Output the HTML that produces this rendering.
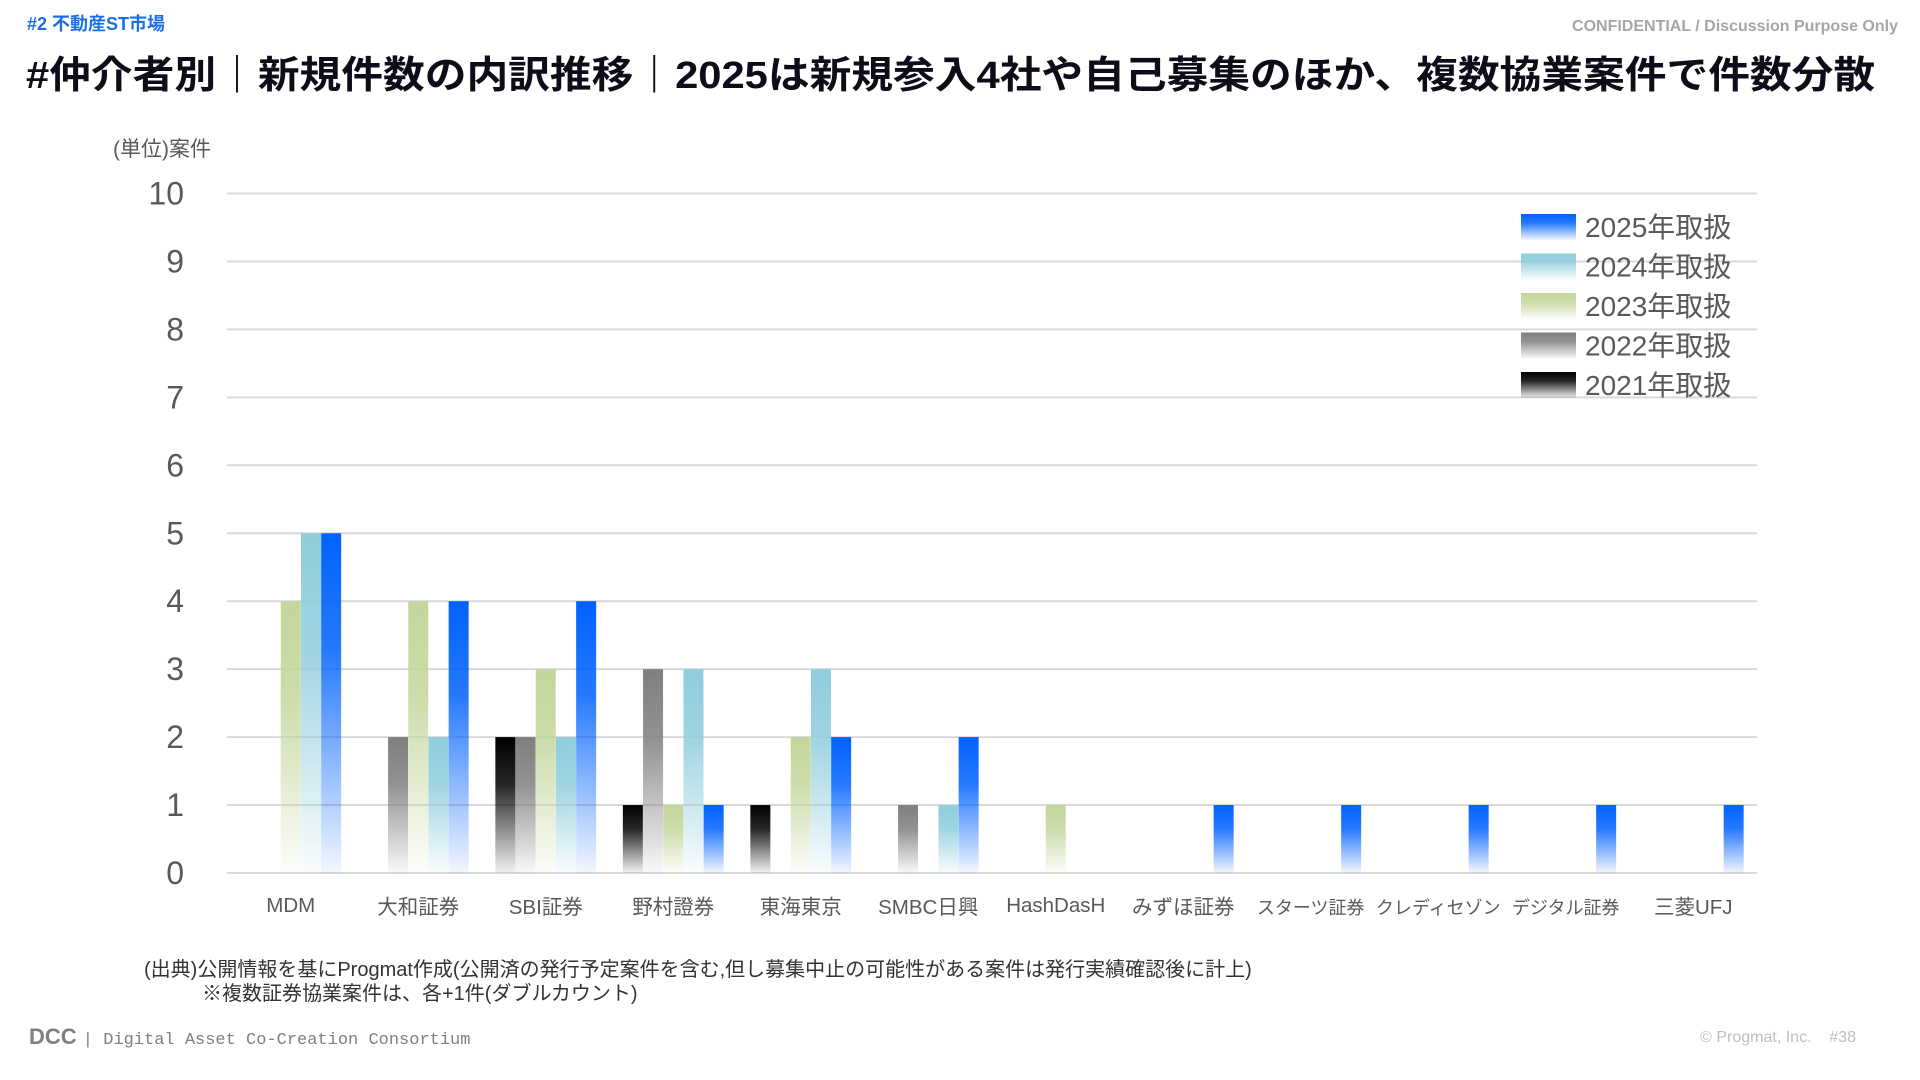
<!DOCTYPE html>
<html><head><meta charset="utf-8"><style>
body{margin:0;width:1920px;height:1080px;background:#fff;position:relative;overflow:hidden;font-family:"Liberation Sans","Noto Sans CJK JP",sans-serif}
.t{position:absolute;white-space:nowrap}
</style></head><body>
<div class="t" style="left:27px;top:10px;font-size:18px;font-weight:bold;color:#1a6fe8">#2 不動産ST市場</div>
<div class="t" style="right:22px;top:18px;font-size:16px;font-weight:bold;color:#a6a6a6">CONFIDENTIAL / Discussion Purpose Only</div>
<div class="t" style="left:26px;top:44px;font-size:38px;font-weight:bold;color:#0d0d1a;transform:scaleX(1.098);transform-origin:left top">#仲介者別｜新規件数の内訳推移｜2025は新規参入4社や自己募集のほか、複数協業案件で件数分散</div>
<div class="t" style="left:113px;top:133px;font-size:21px;color:#595959">(単位)案件</div>
<svg id="chart" width="1920" height="1080" style="position:absolute;left:0;top:0"></svg>
<div class="t" style="left:144px;top:953px;font-size:20px;color:#333">(出典)公開情報を基にProgmat作成(公開済の発行予定案件を含む,但し募集中止の可能性がある案件は発行実績確認後に計上)</div>
<div class="t" style="left:202px;top:977px;font-size:20px;color:#333">※複数証券協業案件は、各+1件(ダブルカウント)</div>
<div class="t" style="left:29px;top:1024px;font-size:22px;color:#7f7f7f"><b>DCC</b> <span style="font-size:17px;font-family:'Liberation Mono',monospace">| Digital Asset Co-Creation Consortium</span></div>
<div class="t" style="right:64px;top:1029px;font-size:16px;color:#bfbfbf">© Progmat, Inc. &nbsp;&nbsp; #38</div>
<script>
const categories=["MDM","大和証券","SBI証券","野村證券","東海東京","SMBC日興","HashDasH","みずほ証券","スターツ証券","クレディセゾン","デジタル証券","三菱UFJ"];
const s2021=[0,0,2,1,1,0,0,0,0,0,0,0];
const s2022=[0,2,2,3,0,1,0,0,0,0,0,0];
const s2023=[4,4,3,1,2,0,1,0,0,0,0,0];
const s2024=[5,2,2,3,3,1,0,0,0,0,0,0];
const s2025=[5,4,4,1,2,2,0,1,1,1,1,1];
const seriesNames=["2021年取扱","2022年取扱","2023年取扱","2024年取扱","2025年取扱"];
const yTicks=[0,1,2,3,4,5,6,7,8,9,10];
const colors=["#000000","#7f7f7f","#c3d69b","#8fcddc","#0062ff"];
const series=[s2021,s2022,s2023,s2024,s2025];
const NS="http://www.w3.org/2000/svg";
const svg=document.getElementById('chart');
const X0=227,X1=1757,Y0=873,Y1=193.5,YMAX=10;
const band=(X1-X0)/categories.length;
const y=v=>Y0-(Y0-Y1)*v/YMAX;
const xc=i=>X0+band*(i+0.5);
function mk(t,a){const e=document.createElementNS(NS,t);for(const k in a)e.setAttribute(k,a[k]);svg.appendChild(e);return e;}
const defs=mk('defs',{});
colors.forEach((c,i)=>{const g=document.createElementNS(NS,'linearGradient');g.setAttribute('id','g'+i);g.setAttribute('x1','0');g.setAttribute('y1','0');g.setAttribute('x2','0');g.setAttribute('y2','1');
g.innerHTML=`<stop offset="0" stop-color="${c}"/><stop offset="0.35" stop-color="${c}" stop-opacity="0.85"/><stop offset="1" stop-color="${c}" stop-opacity="0.05"/>`;defs.appendChild(g);});
yTicks.forEach(v=>{
 const l=mk('line',{x1:X0,x2:X1,y1:y(v),y2:y(v),stroke:'#d9d9d9','stroke-width':2});
 
 
 const t=mk('text',{x:184,y:y(v)+11,'text-anchor':'end','font-size':32,fill:'#595959','font-family':'Liberation Sans, sans-serif'});
 t.textContent=v;
 
 
});
const bw=20,step=20.2;
categories.forEach((c,i)=>{
 series.forEach((s,k)=>{
  if(s[i]<=0)return;
  const r=mk('rect',{x:xc(i)+(k-2)*step-bw/2,y:y(s[i]),width:bw,height:Y0-y(s[i]),fill:`url(#g${k})`});
  
  
 });
 const small=c.length>=6&&!/[A-Za-z]/.test(c);
 const t=mk('text',{x:xc(i),y:(c==="MDM"||c==="HashDasH")?912:914,'text-anchor':'middle','font-size':small?18:20.5,fill:'#595959','font-family':'Liberation Sans, Noto Sans CJK JP, sans-serif'});
 t.textContent=c;
 
 
});
[4,3,2,1,0].forEach((k,j)=>{
 const cy=227+j*39.5;
 const r=mk('rect',{x:1521,y:cy-13,width:55,height:26,fill:`url(#g${k})`});
 
 
 const t=mk('text',{x:1585,y:cy+10,'font-size':28,fill:'#595959','font-family':'Liberation Sans, Noto Sans CJK JP, sans-serif'});
 t.textContent=seriesNames[k];
 
 
});
</script>
</body></html>
